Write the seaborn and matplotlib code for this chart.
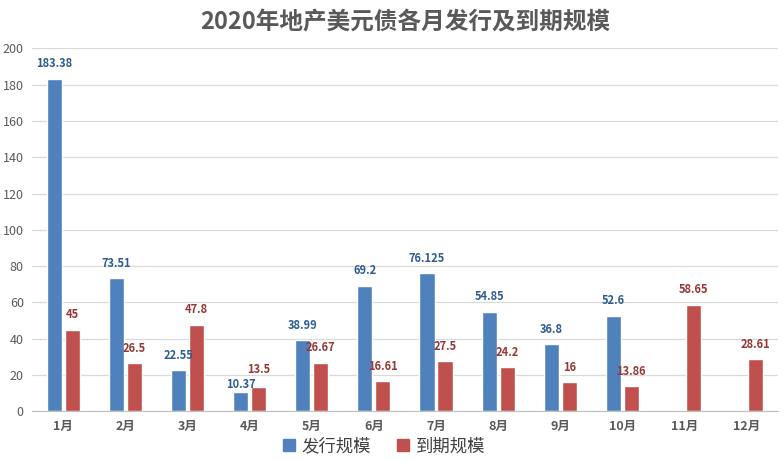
import matplotlib
matplotlib.use("Agg")
import matplotlib.pyplot as plt
import numpy as np
import pandas as pd
import seaborn as sns

# data
months = ["1月", "2月", "3月", "4月", "5月", "6月", "7月", "8月", "9月", "10月", "11月", "12月"]
issued = [183.38, 73.51, 22.55, 10.37, 38.99, 69.2, 76.125, 54.85, 36.8, 52.6, np.nan, np.nan]
matured = [45, 26.5, 47.8, 13.5, 26.67, 16.61, 27.5, 24.2, 16, 13.86, 58.65, 28.61]
series = ["发行规模", "到期规模"]

df = pd.DataFrame({
    "month": months * 2,
    "value": issued + matured,
    "kind": [series[0]] * len(months) + [series[1]] * len(months),
})

sns.set_style("white")
plt.rcParams["font.family"] = ["Noto Sans CJK SC", "DejaVu Sans"]

fig, ax = plt.subplots(figsize=(7.84, 4.61), dpi=100)
fig.subplots_adjust(left=0.041, right=0.992, top=0.895, bottom=0.108)

palette = {series[0]: "#4F81BD", series[1]: "#C0504D"}
sns.barplot(data=df, x="month", y="value", hue="kind", order=months, hue_order=series,
            palette=palette, width=0.58, gap=0.16, saturation=1, ax=ax, legend=False)

# value labels above bars
label_colors = ["#2E5C8E", "#953735"]
all_texts = []
for cont, col in zip(ax.containers, label_colors):
    labels = ["" if np.isnan(v) else f"{v:g}" for v in cont.datavalues]
    all_texts.append(ax.bar_label(cont, labels=labels, padding=6, color=col,
                                  fontsize=8, fontweight="bold"))

# where the red bar is only a bit taller, pull the blue label down (as in the original)
for i, (a, b) in enumerate(zip(issued, matured)):
    if not np.isnan(a) and 0 < b - a < 6:
        all_texts[0][i].xyann = (0, 1)
        all_texts[1][i].xyann = (0, 8)

ax.set_ylim(0, 200)
ax.set_yticks(range(0, 201, 20))
ax.set_xlim(-0.5, 11.5)
ax.yaxis.grid(True, color="#D9D9D9", linewidth=0.9)
ax.set_axisbelow(True)
for s in ["left", "top", "right"]:
    ax.spines[s].set_visible(False)
ax.spines["bottom"].set_color("#BFBFBF")

ax.set_xticks(np.arange(-0.5, 12, 1), minor=True)
ax.tick_params(axis="x", which="minor", length=5, color="#BFBFBF", direction="out")
ax.tick_params(axis="x", which="major", length=0, labelsize=9, labelcolor="#595959", pad=6)
ax.tick_params(axis="y", length=0, labelsize=9, labelcolor="#595959", pad=6)
for t in ax.get_xticklabels():
    t.set_fontweight("bold")

ax.set_xlabel("")
ax.set_ylabel("")
ax.set_title("2020年地产美元债各月发行及到期规模", fontsize=17, fontweight="bold",
             color="#595959", pad=14)

handles = [plt.Rectangle((0, 0), 1, 1, color=palette[s]) for s in series]
fig.legend(handles, series, loc="center", bbox_to_anchor=(0.49, 0.032), ncol=2, frameon=False,
           fontsize=12.5, handlelength=0.7, handleheight=0.7, handletextpad=0.4,
           columnspacing=1.5, labelcolor="#404040")

plt.savefig("out.png", dpi=100)
